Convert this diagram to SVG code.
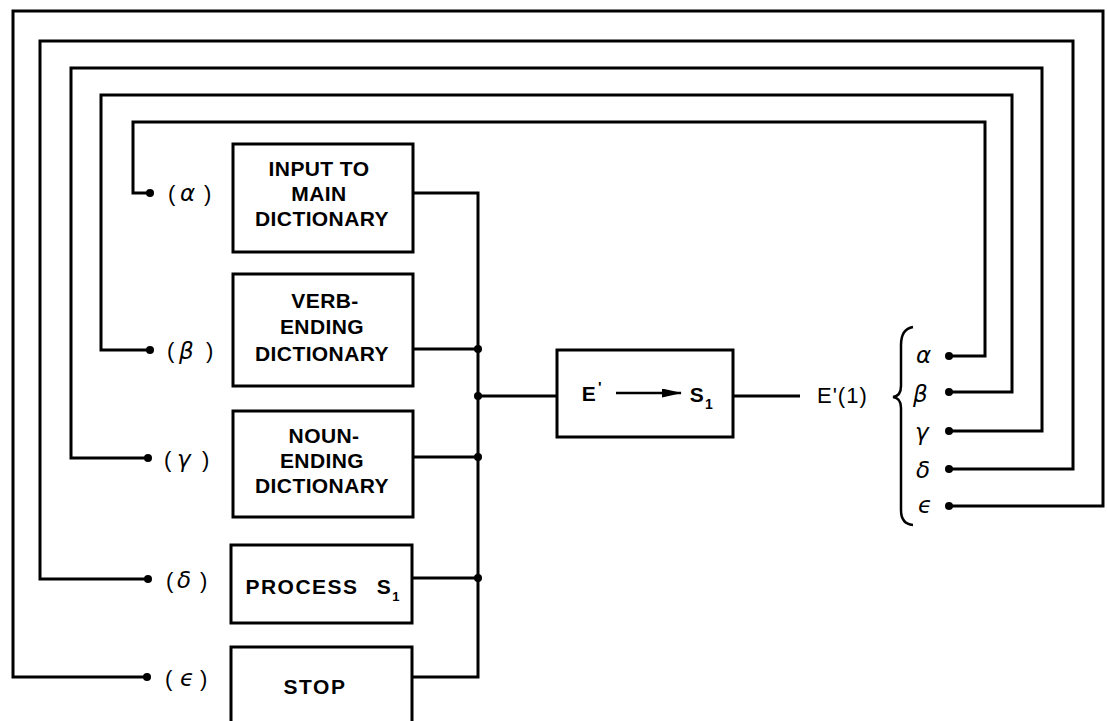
<svg xmlns="http://www.w3.org/2000/svg" width="1107" height="721" viewBox="0 0 1107 721">
<style>
.ln{fill:none;stroke:#000;stroke-width:3;stroke-linejoin:miter}
.bx{fill:#fff;stroke:#000;stroke-width:3}
.dot{fill:#000}
.t{font-family:"Liberation Sans",Arial,sans-serif;font-size:21px;font-weight:bold;fill:#000;text-anchor:middle;letter-spacing:0.4px}
.g{font-family:"DejaVu Sans","Liberation Sans",sans-serif;font-size:23px;font-style:italic;fill:#000}
.p{font-family:"Liberation Sans",Arial,sans-serif;font-size:22px;fill:#000}
</style>
<defs>
<marker id="ah" markerWidth="20" markerHeight="9" refX="19" refY="4.5" orient="auto" markerUnits="userSpaceOnUse">
<path d="M0,0 L20,4.5 L0,9 Z" fill="#000"/>
</marker>
</defs>
<rect width="1107" height="721" fill="#fff"/>
<g id="connectors">
<path class="ln" d="M949,356 H985 V122 H133 V193 H150"/>
<path class="ln" d="M949,392 H1012 V95 H101 V350 H150"/>
<path class="ln" d="M949,431 H1042 V68 H71 V458 H148"/>
<path class="ln" d="M949,469 H1073 V41 H40 V579 H148"/>
<path class="ln" d="M949,506 H1103 V11 H13 V677 H147"/>
<path class="ln" d="M413,193 H478 V677 H412"/>
<path class="ln" d="M413,349 H478 M413,457 H478 M412,578 H478 M478,396 H557 M733,396 H800"/>
<circle class="dot" cx="150" cy="193" r="4"/>
<circle class="dot" cx="150" cy="350" r="4"/>
<circle class="dot" cx="148" cy="458" r="4"/>
<circle class="dot" cx="148" cy="579" r="4"/>
<circle class="dot" cx="147" cy="677" r="4"/>
<circle class="dot" cx="949" cy="356" r="4"/>
<circle class="dot" cx="949" cy="392" r="4"/>
<circle class="dot" cx="949" cy="431" r="4"/>
<circle class="dot" cx="949" cy="469" r="4"/>
<circle class="dot" cx="949" cy="506" r="4"/>
<circle class="dot" cx="478" cy="349" r="4"/>
<circle class="dot" cx="478" cy="396" r="4"/>
<circle class="dot" cx="478" cy="457" r="4"/>
<circle class="dot" cx="478" cy="578" r="4"/>
</g>
<g id="label-alpha"><text class="p" x="168" y="201">(</text><text class="g" x="180" y="201">α</text><text class="p" x="204" y="201">)</text></g>
<g id="label-beta"><text class="p" x="167" y="358">(</text><text class="g" x="179" y="359">β</text><text class="p" x="206" y="358">)</text></g>
<g id="label-gamma"><text class="p" x="164" y="467">(</text><text class="g" x="177" y="467">γ</text><text class="p" x="202" y="467">)</text></g>
<g id="label-delta"><text class="p" x="166" y="588">(</text><text class="g" x="177" y="588">δ</text><text class="p" x="200" y="588">)</text></g>
<g id="label-epsilon"><text class="p" x="165" y="686">(</text><text class="g" x="180" y="686">ϵ</text><text class="p" x="200" y="686">)</text></g>
<g id="input-main">
<rect class="bx" x="233" y="144" width="180" height="108"/>
<text class="t" x="319" y="176">INPUT TO</text>
<text class="t" x="319" y="201">MAIN</text>
<text class="t" x="322" y="226">DICTIONARY</text>
</g>
<g id="verb-ending">
<rect class="bx" x="233" y="274" width="180" height="112"/>
<text class="t" x="325" y="308">VERB-</text>
<text class="t" x="322" y="334">ENDING</text>
<text class="t" x="322" y="361">DICTIONARY</text>
</g>
<g id="noun-ending">
<rect class="bx" x="233" y="411" width="180" height="106"/>
<text class="t" x="324" y="443">NOUN-</text>
<text class="t" x="322" y="468">ENDING</text>
<text class="t" x="322" y="493">DICTIONARY</text>
</g>
<g id="process">
<rect class="bx" x="231" y="545" width="181" height="78"/>
<text class="t" x="302" y="594" style="letter-spacing:1.5px">PROCESS</text>
<text class="t" x="384" y="594">S</text>
<text class="t" x="396" y="601" style="font-size:13px">1</text>
</g>
<g id="stop">
<rect class="bx" x="231" y="647" width="181" height="85"/>
<text class="t" x="315" y="694" style="letter-spacing:1.5px">STOP</text>
</g>
<g id="e-to-s">
<rect class="bx" x="557" y="350" width="176" height="87"/>
<text class="t" x="589" y="401">E</text>
<text class="t" x="600" y="392" style="font-size:15px">'</text>
<line x1="616" y1="393" x2="681" y2="393" stroke="#000" stroke-width="2.5" marker-end="url(#ah)"/>
<text class="t" x="697" y="402">S</text>
<text class="t" x="709" y="409" style="font-size:14px">1</text>
</g>
<g id="e1-output">
<text class="p" x="817" y="403" style="letter-spacing:1px">E'(1)</text>
<path class="ln" style="stroke-width:2.5" d="M913,327 Q901,329 901,345 V386 Q901,396 893,397 Q901,398 901,408 V510 Q901,524 913,525"/>
<text class="g" x="916" y="363">α</text>
<text class="g" x="913" y="402">β</text>
<text class="g" x="915" y="440">γ</text>
<text class="g" x="916" y="478">δ</text>
<text class="g" x="918" y="513">ϵ</text>
</g>
</svg>
